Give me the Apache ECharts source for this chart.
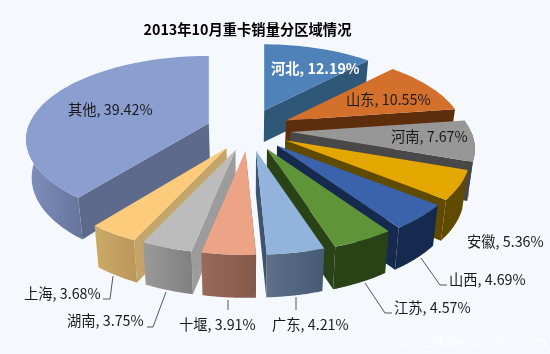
<!DOCTYPE html>
<html>
<head>
<meta charset="utf-8">
<style>
html,body{margin:0;padding:0;background:#f5f9fd;}
#main{width:550px;height:354px;}
</style>
<script src="https://cdn.jsdelivr.net/npm/echarts@6/dist/echarts.min.js"></script>
</head>
<body>
<div id="main"></div>
<script>
var names = ['河北','山东','河南','安徽','山西','江苏','广东','十堰','湖南','上海','其他'];
var values = [12.19,10.55,7.67,5.36,4.69,4.57,4.21,3.91,3.75,3.68,39.42];

// 顶面 / 侧切面 / 外壁(左,右)
var topColors = ['#4f82b8','#d3702b','#979797','#e4a700','#3a63ac','#5f9439','#92b4dc','#eca386','#bcbcbc','#fccb7c','#8b9ed0'];
var cutColors = ['#2f5778','#5e2d0c','#484848','#5f4a00','#162a50','#2a4316','#3f556f','#7d5444','#9c9c9c','#c4a468','#5d6a8c'];
var wallLeft = ['#2f5778','#5e2d0c','#484848','#5f4a00','#162a50','#2a4316','#5f7088','#99695a','#9a9a9a','#cbaa68','#8090bd'];
var wallRight = ['#2f5778','#5e2d0c','#484848','#5f4a00','#162a50','#2a4316','#465a75','#84594a','#808080','#bb975a','#66749c'];

// 每块的半径微调
var rxScale = [0.945,0.97,1,1,1,1,1,1,1,1,0.99];
var ryScale = [0.945,0.97,1,1,1,1,1,1,1,1,0.96];

// 标签位置 [x, y, 颜色]
var labelPos = [
    [271, 69, '#ffffff'],
    [346, 100, '#1a1a1a'],
    [391, 137, '#1a1a1a'],
    [467, 242, '#1a1a1a'],
    [449, 280, '#1a1a1a'],
    [394, 308, '#1a1a1a'],
    [272, 325, '#1a1a1a'],
    [179, 325, '#1a1a1a'],
    [67, 321, '#1a1a1a'],
    [24, 294, '#1a1a1a'],
    [68, 110, '#1a1a1a']
];
var leaders = [
    null, null, null, null,
    [[421, 258], [440, 285], [447, 285]],
    [[365, 283], [385, 313], [392, 313]],
    [[296, 297], [296, 310]],
    [[228, 300], [228, 310]],
    [[166, 292], [153, 327], [147, 327]],
    [[113, 276], [110, 299], [103, 299]]
];

var CX = 248.5, CY = 130, EXPLODE = 42, EXPLODE_K = 0.5;
var RX = 181, RY = 83.7, PERSP = 0.195, DEPTH = 37, TAPER = 0.025;

var total = 0;
values.forEach(function (v) { total += v; });
var starts = [];
var acc = 0;
values.forEach(function (v) {
    starts.push(acc / total * Math.PI * 2);
    acc += v;
});

function apexOf(mid) {
    return [CX + EXPLODE * Math.sin(mid), CY - EXPLODE * EXPLODE_K * Math.cos(mid)];
}
function rimOf(apex, a, i) {
    var y = -Math.cos(a);
    var s = 1 / (1 - PERSP * y);
    return [apex[0] + RX * rxScale[i] * Math.sin(a) * s, apex[1] + RY * ryScale[i] * y * s];
}
// 底面点:向下并略向中心收拢
function down(p, a) {
    return [p[0] - (p[0] - CX) * TAPER, p[1] + DEPTH * (1 + 0.16 * (-Math.cos(a)))];
}

function renderSlice(params, api) {
    var i = params.dataIndex;
    var value = api.value(0);
    var a0 = starts[i];
    var a1 = a0 + value / total * Math.PI * 2;
    var mid = (a0 + a1) / 2;
    var apex = apexOf(mid);
    var rank = Math.round((-Math.cos(mid) + 1) * 100) * 10;
    var apexDown = down(apex, mid);
    var children = [];

    // 切面:右半边看到结束边,左半边看到起始边
    var cutA = mid < Math.PI ? a1 : a0;
    var rimCut = rimOf(apex, cutA, i);
    children.push({
        type: 'polygon', z2: rank + 1,
        shape: {points: [apex, rimCut, down(rimCut, cutA), apexDown]},
        style: {fill: cutColors[i]}
    });

    // 外壁
    var wa0 = Math.max(a0, Math.PI / 2), wa1 = Math.min(a1, Math.PI * 1.5);
    if (wa1 > wa0) {
        var upper = [], lower = [];
        for (var k = 0; k <= 40; k++) {
            var a = wa0 + (wa1 - wa0) * k / 40;
            var p = rimOf(apex, a, i);
            upper.push(p);
            lower.unshift(down(p, a));
        }
        children.push({
            type: 'polygon', z2: rank + 2,
            shape: {points: upper.concat(lower)},
            style: {fill: new echarts.graphic.LinearGradient(0, 0, 1, 0, [
                {offset: 0, color: wallLeft[i]},
                {offset: 1, color: wallRight[i]}
            ])}
        });
    }

    // 顶面
    var pts = [apex];
    var steps = Math.max(8, Math.ceil((a1 - a0) * 40));
    for (var j = 0; j <= steps; j++) {
        pts.push(rimOf(apex, a0 + (a1 - a0) * j / steps, i));
    }
    children.push({
        type: 'polygon', z2: rank + 3,
        shape: {points: pts},
        style: {fill: topColors[i]}
    });

    // 引导线
    if (leaders[i]) {
        children.push({
            type: 'polyline', z2: 5000,
            shape: {points: leaders[i]},
            style: {stroke: '#555555', lineWidth: 1, fill: null}
        });
    }

    // 标签
    var lp = labelPos[i];
    children.push({
        type: 'text', z2: 6000,
        style: {
            text: names[i] + ', ' + value.toFixed(2) + '%',
            x: lp[0], y: lp[1],
            fill: lp[2],
            font: (i === 0 ? 'bold ' : '') + '14.3px "Noto Sans CJK SC", sans-serif',
            align: 'left', verticalAlign: 'middle'
        }
    });
    return {type: 'group', children: children};
}

var chart = echarts.init(document.getElementById('main'), null, {renderer: 'canvas'});
chart.setOption({
    animation: false,
    backgroundColor: '#f5f9fd',
    title: {
        text: '2013年10月重卡销量分区域情况',
        left: 242.5, top: 25, textAlign: 'center', textVerticalAlign: 'middle',
        textStyle: {fontFamily: '"Noto Sans CJK SC", sans-serif', fontSize: 14.3, fontWeight: 'bold', color: '#000000'}
    },
    graphic: [{
        type: 'text', left: 396, top: 335, silent: true,
        style: {text: '卡车之家 www.360che.com', fill: 'rgba(255,255,255,0.75)', font: '12px "Noto Sans CJK SC", sans-serif'}
    }],
    series: [{
        type: 'custom',
        coordinateSystem: 'none',
        renderItem: renderSlice,
        data: values.map(function (v) { return [v]; })
    }]
});
</script>
</body>
</html>
